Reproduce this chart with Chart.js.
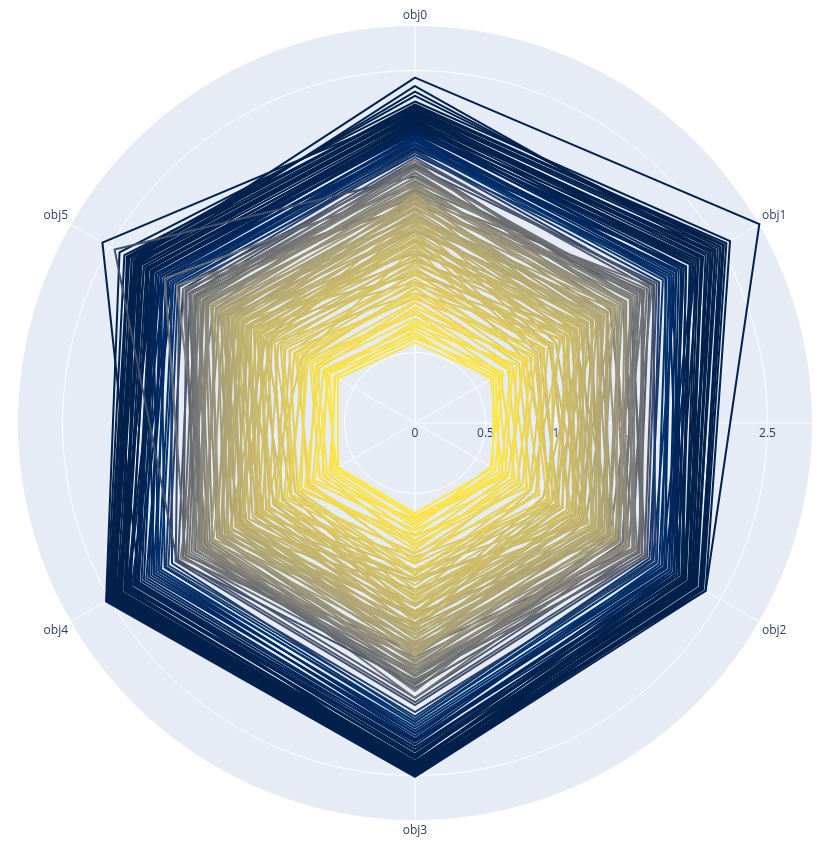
<!DOCTYPE html>
<html>
<head>
<meta charset="utf-8">
<script src="https://cdn.jsdelivr.net/npm/chart.js@4.4.1/dist/chart.umd.min.js"></script>
<style>
  html, body { margin: 0; padding: 0; background: #ffffff; }
  #wrap { width: 834px; height: 851px; }
</style>
</head>
<body>
<div id="wrap"><canvas id="c" width="834" height="851"></canvas></div>
<script>
// ---- data ----
const categories = ['obj0', 'obj1', 'obj2', 'obj3', 'obj4', 'obj5'];
const radialTicks = [0, 0.5, 1, 1.5, 2, 2.5];
const radialTickLabels = ['0', '0.5', '1', '1.5', '2', '2.5'];

const innerSeries = [
  [0.57,0.64,0.64,0.64,0.63,0.63],
  [0.60,0.70,0.62,0.72,0.68,0.66],
  [0.62,0.66,0.69,0.67,0.66,0.70],
  [0.64,0.62,0.72,0.66,0.64,0.74],
  [0.66,0.72,0.66,0.74,0.70,0.65],
  [0.70,0.68,0.75,0.70,0.76,0.72],
  [0.72,0.80,0.74,0.68,0.82,0.70],
  [0.74,0.78,0.71,0.79,0.72,0.80],
  [0.68,0.83,0.80,0.76,0.84,0.75],
  [0.78,0.70,0.82,0.88,0.74,0.84],
  [0.80,0.76,0.86,0.83,0.78,0.86],
  [0.82,0.90,0.76,0.84,0.90,0.78],
  [0.85,0.88,0.79,0.90,0.87,0.81],
  [0.86,0.80,0.92,0.80,0.95,0.88],
  [0.77,0.92,0.91,0.86,0.93,0.90],
  [0.90,0.85,0.95,0.97,0.88,0.96],
  [0.92,0.96,0.84,0.99,0.86,0.98],
  [0.95,0.99,0.88,0.93,1.02,0.92],
  [0.96,0.88,1.02,0.92,1.05,0.90],
  [0.88,1.04,1.01,1.05,0.96,1.03],
  [1.00,0.94,1.08,1.00,1.07,0.99],
  [1.02,1.06,0.94,1.08,0.98,1.08],
  [1.05,1.09,0.99,1.12,1.01,1.10],
  [1.07,0.98,1.10,1.04,1.12,1.02],
  [0.98,1.13,1.12,1.07,1.14,1.06],
  [1.10,1.05,1.16,1.18,1.09,1.15]
];

const middleSeries = [
  [1.14,1.18,1.08,1.15,1.20,1.12],
  [1.12,1.25,1.15,1.10,1.28,1.20],
  [1.08,1.22,1.21,1.24,1.13,1.22],
  [1.18,1.10,1.28,1.26,1.16,1.30],
  [1.19,1.12,1.26,1.20,1.25,1.17],
  [1.24,1.27,1.17,1.29,1.19,1.28],
  [1.26,1.33,1.20,1.36,1.22,1.26],
  [1.16,1.30,1.30,1.22,1.31,1.24],
  [1.28,1.21,1.33,1.34,1.26,1.32],
  [1.33,1.24,1.36,1.28,1.40,1.30],
  [1.31,1.35,1.24,1.30,1.36,1.27],
  [1.29,1.40,1.28,1.45,1.30,1.44],
  [1.22,1.38,1.37,1.39,1.29,1.37],
  [1.35,1.28,1.40,1.33,1.41,1.34],
  [1.41,1.32,1.46,1.38,1.47,1.36],
  [1.39,1.42,1.31,1.44,1.33,1.41],
  [1.30,1.45,1.44,1.37,1.46,1.38],
  [1.45,1.46,1.35,1.52,1.42,1.49],
  [1.43,1.36,1.47,1.48,1.40,1.46],
  [1.36,1.50,1.48,1.42,1.54,1.44],
  [1.46,1.49,1.38,1.43,1.50,1.42],
  [1.37,1.52,1.51,1.53,1.43,1.50],
  [1.51,1.44,1.52,1.56,1.46,1.57],
  [1.49,1.41,1.54,1.47,1.55,1.48],
  [1.55,1.53,1.50,1.48,1.58,1.50],
  [1.53,1.55,1.45,1.57,1.47,1.54],
  [1.47,1.57,1.55,1.60,1.50,1.56],
  [1.44,1.58,1.57,1.50,1.59,1.52],
  [1.59,1.51,1.63,1.55,1.62,1.53],
  [1.56,1.48,1.60,1.61,1.53,1.59],
  [1.20,1.50,1.12,1.46,1.24,1.55],
  [1.15,1.40,1.05,1.35,1.15,1.42],
  [1.48,1.15,1.42,1.18,1.52,1.22],
  [1.42,1.10,1.38,1.12,1.45,1.18],
  [1.05,1.32,1.40,1.10,1.36,1.45],
  [1.00,1.25,1.30,1.05,1.28,1.35],
  [1.35,1.02,1.18,1.42,1.08,1.30],
  [1.30,1.00,1.10,1.36,1.02,1.22],
  [0.92,1.20,0.95,1.25,0.98,1.15],
  [1.25,0.90,1.15,0.95,1.22,0.93],
  [1.58,1.30,1.62,1.35,1.55,1.40],
  [1.62,1.40,1.58,1.44,1.65,1.46],
  [1.40,1.62,1.33,1.65,1.38,1.60],
  [1.46,1.64,1.40,1.62,1.44,1.66]
];

const graySeries = [
  [1.60,1.63,1.52,1.64,1.56,1.62],
  [1.64,1.68,1.58,1.70,1.62,1.66],
  [1.52,1.66,1.65,1.58,1.67,1.57],
  [1.56,1.72,1.68,1.62,1.74,1.60],
  [1.63,1.57,1.68,1.69,1.60,1.67],
  [1.69,1.62,1.73,1.75,1.66,1.72],
  [1.67,1.70,1.59,1.65,1.71,1.63],
  [1.72,1.78,1.64,1.72,1.78,1.70],
  [1.58,1.73,1.72,1.74,1.62,1.71],
  [1.66,1.76,1.78,1.80,1.70,1.78],
  [1.70,1.64,1.75,1.68,1.76,1.69],
  [1.78,1.72,1.80,1.76,1.83,1.74],
  [1.74,1.77,1.66,1.78,1.68,1.76],
  [1.81,1.82,1.70,1.86,1.75,1.83],
  [1.65,1.80,1.79,1.72,1.81,1.73],
  [1.74,1.86,1.84,1.78,1.87,1.79],
  [1.77,1.70,1.82,1.83,1.74,1.81],
  [1.84,1.78,1.86,1.88,1.80,1.88],
  [1.80,1.84,1.73,1.79,1.85,1.77],
  [1.71,1.87,1.86,1.88,1.76,1.85],
  [1.83,1.76,1.89,1.82,1.90,1.80],
  [1.55,1.85,1.60,1.90,1.70,1.95],
  [1.60,1.88,1.66,1.84,1.78,1.90],
  [1.86,1.60,1.80,1.66,1.92,1.65],
  [1.68,1.90,1.78,1.62,1.88,2.05],
  [1.75,1.82,1.70,1.85,1.95,2.46],
  [1.62,1.94,1.75,1.95,1.72,1.84]
];

const outerSeries = [
  [1.88,1.92,1.83,1.95,1.90,1.87],
  [1.86,1.96,1.88,1.98,1.94,1.84],
  [1.82,1.98,1.90,2.00,1.96,1.93],
  [1.93,2.00,1.94,2.08,2.04,1.94],
  [1.92,1.95,1.97,2.05,2.02,1.90],
  [1.96,2.03,1.92,2.10,1.99,2.00],
  [1.97,2.06,1.98,2.12,2.10,1.98],
  [1.90,2.08,2.02,2.14,2.08,1.96],
  [2.01,2.10,2.04,2.16,2.14,2.02],
  [2.00,2.05,2.06,2.18,2.12,2.04],
  [2.04,2.14,2.08,2.20,2.18,2.06],
  [2.03,2.12,2.00,2.22,2.16,2.08],
  [2.07,2.18,2.12,2.26,2.22,2.10],
  [1.98,2.16,2.10,2.25,2.20,2.02],
  [2.09,2.22,2.16,2.30,2.26,2.14],
  [2.06,2.20,2.08,2.28,2.24,2.12],
  [2.11,2.26,2.19,2.33,2.29,2.16],
  [2.10,2.18,2.14,2.32,2.27,2.15],
  [2.13,2.30,2.21,2.37,2.33,2.19],
  [2.08,2.25,2.18,2.35,2.30,2.10],
  [2.15,2.34,2.24,2.41,2.38,2.22],
  [2.14,2.28,2.12,2.38,2.34,2.18],
  [2.18,2.38,2.27,2.43,2.41,2.25],
  [2.12,2.32,2.22,2.40,2.37,2.20],
  [2.19,2.42,2.29,2.45,2.44,2.27],
  [2.17,2.36,2.20,2.42,2.40,2.24],
  [2.21,2.46,2.31,2.47,2.47,2.29],
  [2.20,2.40,2.26,2.44,2.43,2.22],
  [2.23,2.50,2.34,2.49,2.49,2.32],
  [2.16,2.44,2.28,2.46,2.46,2.28],
  [2.26,2.53,2.35,2.50,2.51,2.35],
  [2.22,2.48,2.30,2.48,2.48,2.30],
  [2.25,2.52,2.33,2.49,2.50,2.34],
  [2.24,2.55,2.36,2.50,2.52,2.38],
  [2.28,2.58,2.38,2.51,2.53,2.42],
  [2.32,2.50,2.35,2.47,2.45,2.36],
  [2.35,2.46,2.30,2.44,2.40,2.32],
  [2.39,2.42,2.28,2.40,2.38,2.26],
  [2.45,2.82,2.38,2.42,2.36,2.30],
  [2.21,2.35,2.25,2.45,2.26,2.56],
  [1.95,2.10,2.22,2.30,2.35,2.05],
  [2.00,2.20,2.10,2.38,2.32,2.00],
  [2.05,2.30,2.05,2.20,2.10,2.15],
  [2.08,2.32,2.14,2.42,2.36,2.08],
  [1.94,2.22,2.16,2.36,2.28,1.98],
  [2.14,2.44,2.20,2.46,2.44,2.14],
  [2.10,2.40,2.24,2.45,2.42,2.16],
  [1.98,2.08,2.16,2.26,2.30,2.12],
  [2.02,2.14,1.95,2.12,2.05,2.08],
  [2.06,2.28,2.02,2.24,2.14,2.20]
];

// ---- styling helpers ----
const cividis = [
  [0,[0,32,76]],[0.058824,[0,42,102]],[0.117647,[0,52,110]],[0.176471,[39,63,108]],
  [0.235294,[60,74,107]],[0.294118,[76,85,107]],[0.352941,[91,95,109]],[0.411765,[104,106,112]],
  [0.470588,[117,117,117]],[0.529412,[131,129,120]],[0.588235,[146,140,120]],[0.647059,[161,152,118]],
  [0.705882,[176,165,114]],[0.764706,[192,177,109]],[0.823529,[209,191,102]],[0.882353,[225,204,92]],
  [0.941176,[243,219,79]],[1,[255,233,69]]
];
const meanStops = [[0.6,1],[0.85,0.94],[1.1,0.85],[1.4,0.76],[1.6,0.66],[1.75,0.52],[1.88,0.34],[1.98,0.16],[2.1,0.05],[2.25,0]];

function interpStops(stops, v) {
  if (v <= stops[0][0]) return stops[0][1];
  for (let i = 1; i < stops.length; i++) {
    if (v <= stops[i][0]) {
      const a = stops[i-1], b = stops[i];
      const f = (v - a[0]) / (b[0] - a[0]);
      return a[1] + f * (b[1] - a[1]);
    }
  }
  return stops[stops.length-1][1];
}
function cividisColor(t) {
  t = Math.max(0, Math.min(1, t));
  for (let i = 1; i < cividis.length; i++) {
    if (t <= cividis[i][0]) {
      const a = cividis[i-1], b = cividis[i];
      const f = (t - a[0]) / (b[0] - a[0]);
      const c = a[1].map((x, k) => Math.round(x + f * (b[1][k] - x)));
      return 'rgb(' + c.join(',') + ')';
    }
  }
  return 'rgb(255,233,69)';
}

const allSeries = [].concat(innerSeries, middleSeries, graySeries, outerSeries);
const dataMax = Math.max.apply(null, allSeries.map(s => Math.max.apply(null, s)));

const datasets = allSeries.map((vals, i) => {
  const mean = vals.reduce((a, b) => a + b, 0) / vals.length;
  const col = cividisColor(interpStops(meanStops, mean));
  return {
    label: 'run ' + i,
    data: vals,
    borderColor: col,
    backgroundColor: 'rgba(0,0,0,0)',
    borderWidth: 2,
    fill: false,
    pointRadius: 0,
    pointHoverRadius: 0,
    tension: 0
  };
});

const polarBg = {
  id: 'polarBg',
  beforeDraw(chart) {
    const s = chart.scales.r;
    const ctx = chart.ctx;
    ctx.save();
    ctx.beginPath();
    ctx.arc(s.xCenter, s.yCenter, s.drawingArea, 0, Math.PI * 2);
    ctx.fillStyle = '#E5ECF6';
    ctx.fill();
    ctx.restore();
  },
  beforeDatasetsDraw(chart) {
    const s = chart.scales.r;
    const ctx = chart.ctx;
    ctx.save();
    ctx.strokeStyle = '#ffffff';
    ctx.lineWidth = 1;
    ctx.beginPath();
    ctx.moveTo(s.xCenter, s.yCenter);
    ctx.lineTo(s.xCenter + s.drawingArea, s.yCenter);
    ctx.stroke();
    ctx.fillStyle = '#2a3f5f';
    ctx.font = '12px "Open Sans", "Liberation Sans", sans-serif';
    ctx.textAlign = 'center';
    ctx.textBaseline = 'middle';
    radialTicks.forEach((v, i) => {
      const d = s.getDistanceFromCenterForValue(v);
      ctx.fillText(radialTickLabels[i], s.xCenter + d, s.yCenter + 11);
    });
    ctx.restore();
  }
};

new Chart(document.getElementById('c'), {
  type: 'radar',
  data: { labels: categories, datasets: datasets },
  options: {
    responsive: false,
    animation: false,
    devicePixelRatio: 1,
    layout: { padding: { top: 8, bottom: 12, left: 0, right: 4 } },
    plugins: { legend: { display: false }, tooltip: { enabled: false } },
    elements: { line: { tension: 0 } },
    scales: {
      r: {
        min: 0,
        max: dataMax,
        beginAtZero: true,
        ticks: { display: false, stepSize: 0.5 },
        grid: { color: '#ffffff', lineWidth: 1, circular: true },
        angleLines: { color: '#ffffff', lineWidth: 1 },
        pointLabels: {
          color: '#2a3f5f',
          padding: 3,
          font: { family: '"Open Sans", "Liberation Sans", sans-serif', size: 12 }
        }
      }
    }
  },
  plugins: [polarBg]
});
</script>
</body>
</html>
